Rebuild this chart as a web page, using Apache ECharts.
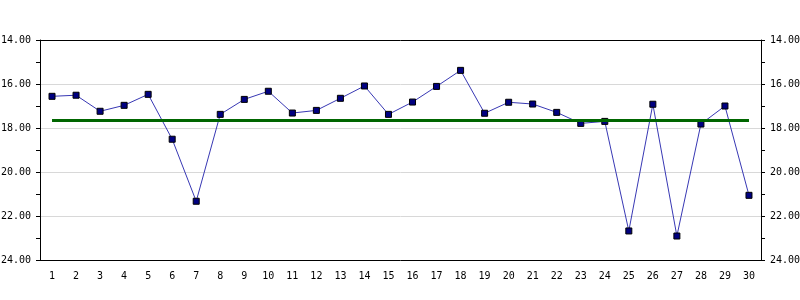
<!DOCTYPE html>
<html>
<head>
<meta charset="utf-8">
<script src="https://cdn.jsdelivr.net/npm/echarts@6/dist/echarts.min.js"></script>
<style>html,body{margin:0;padding:0;background:#fff;}#c{width:800px;height:300px;}</style>
</head>
<body>
<div id="c"></div>
<script>
const categories = ['1','2','3','4','5','6','7','8','9','10','11','12','13','14','15','16','17','18','19','20','21','22','23','24','25','26','27','28','29','30'];
const values = [16.56,16.51,17.24,16.97,16.47,18.51,21.33,17.38,16.70,16.33,17.32,17.20,16.65,16.09,17.38,16.82,16.11,15.38,17.33,16.83,16.91,17.29,17.79,17.70,22.68,16.92,22.91,17.82,17.00,21.06];
const meanLine = 17.67;
const yMin = 14, yMax = 24;

const font = { fontFamily: 'DejaVu Sans Mono', fontSize: 10, color: '#000' };
function yAxisDef(pos) {
  return {
    type: 'value', position: pos, min: yMin, max: yMax, interval: 2, inverse: true,
    axisLine: { show: true, onZero: false, lineStyle: { color: '#000', width: 1 } },
    axisTick: { show: true, length: 4, lineStyle: { color: '#000' } },
    minorTick: { show: true, splitNumber: 2, length: 4, lineStyle: { color: '#000' } },
    axisLabel: Object.assign({ margin: 9, formatter: v => v.toFixed(2) }, font),
    splitLine: { show: pos === 'left', lineStyle: { color: '#d8d8d8', width: 1 } }
  };
}
const chart = echarts.init(document.getElementById('c'), null, { renderer: 'canvas' });
chart.setOption({
  animation: false,
  backgroundColor: '#fff',
  grid: { left: 40, right: 39, top: 40, bottom: 40, outerBoundsMode: 'none', containLabel: false, show: false },
  xAxis: [{
    type: 'category', data: categories, boundaryGap: true,
    axisLine: { lineStyle: { color: '#000', width: 1 } },
    axisTick: { alignWithLabel: true, length: 5, lineStyle: { color: '#000' } },
    axisLabel: Object.assign({ margin: 11, interval: 0 }, font),
    splitLine: { show: false }
  }, {
    type: 'category', data: categories, boundaryGap: true, position: 'top',
    axisLine: { show: true, onZero: false, lineStyle: { color: '#000', width: 1 } },
    axisTick: { show: false }, axisLabel: { show: false }, splitLine: { show: false }
  }],
  yAxis: [yAxisDef('left'), yAxisDef('right')],
  series: [{
    type: 'line', data: values, xAxisIndex: 0, yAxisIndex: 0,
    symbol: 'rect', symbolSize: 6,
    lineStyle: { color: '#3838b4', width: 1 },
    itemStyle: { color: '#000080', borderColor: '#000', borderWidth: 1 },
    markLine: {
      silent: true, symbol: 'none', label: { show: false },
      lineStyle: { color: '#006600', width: 3, type: 'solid' },
      data: [[{ coord: [categories[0], meanLine] }, { coord: [categories[categories.length - 1], meanLine] }]]
    }
  }]
});
</script>
</body>
</html>
